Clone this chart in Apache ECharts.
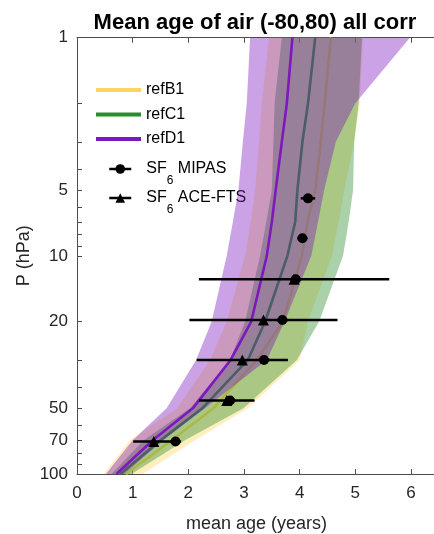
<!DOCTYPE html>
<html>
<head>
<meta charset="utf-8">
<script src="https://cdn.jsdelivr.net/npm/echarts@6/dist/echarts.min.js"></script>
<style>
  html, body { margin: 0; padding: 0; background: #ffffff; }
  #chart { width: 434px; height: 534px; }
</style>
</head>
<body>
<div id="chart"></div>
<script>
// Model pressure levels (hPa)
const pressure = [100, 70, 50, 30, 20, 10, 7, 5, 3, 2, 1];

// refB1: ensemble mean age and spread (years)
const refB1Mean = [0.88, 1.70, 2.45, 3.23, 3.70, 4.04, 4.14, 4.28, 4.38, 4.45, 4.56];
const refB1Low  = [0.48, 0.95, 1.80, 2.39, 2.69, 3.02, 3.12, 3.20, 3.27, 3.32, 3.45];
const refB1High = [1.18, 2.12, 3.07, 4.00, 4.15, 4.58, 4.70, 4.80, 4.98, 5.08, 5.14];

// refC1
const refC1Mean = [0.78, 1.50, 2.25, 3.07, 3.38, 3.78, 3.92, 3.96, 4.05, 4.15, 4.28];
const refC1Low  = [0.62, 1.20, 2.03, 2.75, 3.02, 3.29, 3.40, 3.50, 3.53, 3.55, 3.68];
const refC1High = [0.98, 1.94, 2.99, 3.95, 4.35, 4.78, 4.88, 4.96, 4.98, 5.06, 5.12];

// refD1
const refD1Mean = [0.71, 1.36, 2.08, 2.76, 3.13, 3.41, 3.50, 3.57, 3.68, 3.77, 3.87];
const refD1Low  = [0.52, 1.00, 1.61, 2.14, 2.42, 2.69, 2.80, 2.90, 2.98, 3.05, 3.11];
const refD1High = [0.85, 1.55, 2.30, 3.41, 3.73, 4.21, 4.33, 4.44, 4.65, 5.00, 5.98];

// SF6 observations: MIPAS and ACE-FTS (age, 1-sigma in years)
const mipasP   = [5.45, 8.3, 12.8, 19.7, 30, 46, 71];
const mipasAge = [4.15, 4.05, 3.93, 3.69, 3.36, 2.75, 1.77];
const mipasErr = [0.13, 0.09, 0.10, 0.10, 0.10, 0.10, 0.10];
const aceP     = [12.8, 19.7, 30, 46, 71];
const aceAge   = [3.90, 3.35, 2.97, 2.69, 1.38];
const aceErr   = [1.71, 1.33, 0.82, 0.50, 0.37];

// Axis ticks
const ageTicks = [0, 1, 2, 3, 4, 5, 6];
const pLabels = [1, 5, 10, 20, 50, 70, 100];
const pTicks = [1, 2, 3, 4, 5, 6, 7, 8, 9, 10, 20, 30, 40, 50, 60, 70, 80, 90, 100];

const FONT = '"Liberation Sans", Arial, Helvetica, sans-serif';
const AXIS_COLOR = '#4d4d4d';
const TEXT_COLOR = '#262626';

const colB = '#FFD45E';
const colC = '#2A8C2A';
const colD = '#7E17BE';

// Shaded min-max envelope, drawn as one polygon in data coordinates
function bandSeries(name, low, high, color, z) {
  return {
    type: 'custom',
    name: name,
    coordinateSystem: 'cartesian2d',
    silent: true,
    z: z,
    data: [[low[0], pressure[0]]],
    encode: { x: 0, y: 1 },
    renderItem: function (params, api) {
      const pts = [];
      for (let i = 0; i < pressure.length; i++) pts.push(api.coord([low[i], pressure[i]]));
      for (let i = pressure.length - 1; i >= 0; i--) pts.push(api.coord([high[i], pressure[i]]));
      return { type: 'polygon', shape: { points: pts }, style: { fill: color, opacity: 0.4 } };
    }
  };
}

function meanSeries(name, mean, color, z) {
  return {
    type: 'line',
    name: name,
    z: z,
    data: pressure.map((p, i) => [mean[i], p]),
    symbol: 'none',
    silent: true,
    lineStyle: { color: color, width: 2.6 },
    itemStyle: { color: color }
  };
}

// Horizontal error bars
function errorSeries(ages, ps, errs, z) {
  return {
    type: 'custom',
    coordinateSystem: 'cartesian2d',
    silent: true,
    z: z,
    data: ps.map((p, i) => [ages[i], p, errs[i]]),
    encode: { x: 0, y: 1 },
    renderItem: function (params, api) {
      const x = api.value(0), p = api.value(1), e = api.value(2);
      const a = api.coord([x - e, p]);
      const b = api.coord([x + e, p]);
      return { type: 'line', shape: { x1: a[0], y1: a[1], x2: b[0], y2: b[1] },
               style: { stroke: '#000', lineWidth: 2.5 } };
    }
  };
}

function obsSeries(name, ages, ps, symbol, size, z) {
  return {
    type: 'line',
    name: name,
    z: z,
    data: ps.map((p, i) => [ages[i], p]),
    symbol: symbol,
    symbolSize: size,
    showSymbol: true,
    silent: true,
    lineStyle: { width: 0, opacity: 0 },
    itemStyle: { color: '#000' }
  };
}

const subFmt = function (name) {
  return name.replace('SF6', '{m|SF}{s|6}{m|').concat('}');
};

const chart = echarts.init(document.getElementById('chart'), null, { renderer: 'canvas' });
chart.setOption({
  animation: false,
  backgroundColor: '#ffffff',
  title: {
    text: 'Mean age of air (-80,80) all corr',
    left: 250,
    textAlign: 'center',
    top: 7,
    textStyle: { fontFamily: FONT, fontSize: 22, fontWeight: 'bold', color: '#000' }
  },
  grid: { left: 77, right: -2, top: 37.7, bottom: 60, outerBoundsMode: 'none', containLabel: false },
  legend: [
    {
      orient: 'vertical', left: 96, top: 82, padding: 0,
      icon: 'rect', itemWidth: 45, itemHeight: 4, itemGap: 8.5,
      data: ['refB1', 'refC1', 'refD1'],
      textStyle: { fontFamily: FONT, fontSize: 16, color: '#000', lineHeight: 16 },
      selectedMode: false
    },
    {
      orient: 'vertical', left: 108, top: 161, padding: 0,
      itemWidth: 22, itemHeight: 12, itemGap: 3,
      data: ['SF6 MIPAS', 'SF6 ACE-FTS'],
      lineStyle: { width: 2.5, color: '#000', opacity: 1 },
      itemStyle: { color: '#000' },
      formatter: subFmt,
      textStyle: {
        fontFamily: FONT, fontSize: 16, color: '#000', padding: [0, 0, 0, 10],
        rich: {
          m: { fontFamily: FONT, fontSize: 16, lineHeight: 16, verticalAlign: 'top', color: '#000' },
          s: { fontFamily: FONT, fontSize: 12, lineHeight: 12, verticalAlign: 'top', padding: [14, 0, 0, 0], color: '#000' }
        }
      },
      selectedMode: false
    }
  ],
  xAxis: [
    {
      type: 'value', position: 'bottom', min: 0, max: 6.45, interval: 1,
      name: 'mean age (years)', nameLocation: 'middle', nameGap: 41,
      nameTextStyle: { fontFamily: FONT, fontSize: 18, color: TEXT_COLOR },
      axisLine: { show: true, onZero: false, lineStyle: { color: AXIS_COLOR, width: 1 } },
      axisTick: { show: true, inside: true, length: 5, customValues: ageTicks, lineStyle: { color: AXIS_COLOR } },
      axisLabel: { customValues: ageTicks, fontFamily: FONT, fontSize: 17, color: TEXT_COLOR, margin: 11 },
      splitLine: { show: false }
    },
    {
      type: 'value', position: 'top', min: 0, max: 6.45, interval: 1,
      axisLine: { show: true, onZero: false, lineStyle: { color: AXIS_COLOR, width: 1 } },
      axisTick: { show: true, inside: true, length: 5, customValues: ageTicks, lineStyle: { color: AXIS_COLOR } },
      axisLabel: { show: false },
      splitLine: { show: false }
    }
  ],
  yAxis: {
    type: 'log', logBase: 10, min: 1, max: 100, inverse: true,
    name: 'P (hPa)', nameLocation: 'middle', nameGap: 38, nameRotate: 90,
    nameMoveOverlap: false,
    nameTextStyle: { fontFamily: FONT, fontSize: 18, color: TEXT_COLOR, padding: [0, 0, 6, 0] },
    axisLine: { show: true, onZero: false, lineStyle: { color: AXIS_COLOR, width: 1 } },
    axisTick: { show: true, inside: true, length: 5, customValues: pTicks, lineStyle: { color: AXIS_COLOR } },
    axisLabel: { customValues: pLabels, fontFamily: FONT, fontSize: 17, color: TEXT_COLOR, margin: 9 },
    minorTick: { show: false },
    splitLine: { show: false }
  },
  series: [
    bandSeries('refB1 range', refB1Low, refB1High, colB, 1),
    meanSeries('refB1', refB1Mean, colB, 2),
    bandSeries('refC1 range', refC1Low, refC1High, colC, 3),
    meanSeries('refC1', refC1Mean, colC, 4),
    bandSeries('refD1 range', refD1Low, refD1High, colD, 5),
    meanSeries('refD1', refD1Mean, colD, 6),
    errorSeries(aceAge, aceP, aceErr, 7),
    errorSeries(mipasAge, mipasP, mipasErr, 7),
    obsSeries('SF6 MIPAS', mipasAge, mipasP, 'circle', 10, 8),
    obsSeries('SF6 ACE-FTS', aceAge, aceP, 'triangle', 11, 8)
  ]
});
</script>
</body>
</html>
